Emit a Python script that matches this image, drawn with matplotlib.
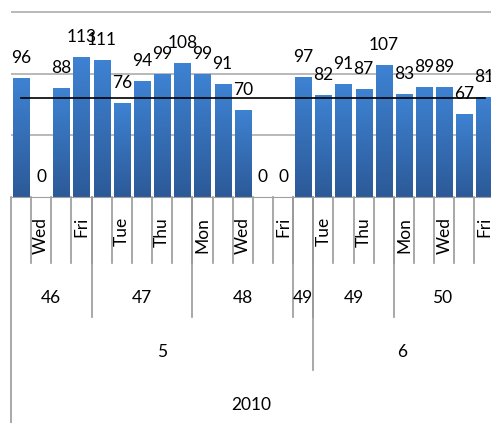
import numpy as np
import matplotlib.pyplot as plt
from matplotlib.colors import LinearSegmentedColormap

plt.rcParams['font.family'] = ['Lato', 'DejaVu Sans']

values = [96, 0, 88, 113, 111, 76, 94, 99, 108, 99, 91, 70,
          0, 0, 97, 82, 91, 87, 107, 83, 89, 89, 67, 81]
days = ['Tue', 'Wed', 'Thu', 'Fri',
        'Mon', 'Tue', 'Wed', 'Thu', 'Fri',
        'Mon', 'Tue', 'Wed', 'Thu', 'Fri',
        'Mon', 'Tue', 'Wed', 'Thu', 'Fri',
        'Mon', 'Tue', 'Wed', 'Thu', 'Fri']
weeks = [46]*4 + [47]*5 + [48]*5 + [49]*5 + [50]*5
months = [5]*15 + [6]*9
years = [2010]*24
target = 80

W, H = 491, 423
base_px = 197  # baseline, pixels from top

fig = plt.figure(figsize=(W/100, H/100), dpi=100)
ax = fig.add_axes([11/W, 1 - base_px/H, 480/W, base_px/H])

x = np.arange(len(values))
bars = ax.bar(x, values, width=0.8, color='none', zorder=2)

# gradient fill per bar, lighter at the top
cmap = LinearSegmentedColormap.from_list('bar', ['#2c5a98', '#3e82d2'])
grad = np.linspace(0, 1, 100).reshape(-1, 1)
for r in bars:
    h = r.get_height()
    if h > 0:
        ax.imshow(grad, extent=[r.get_x(), r.get_x() + r.get_width(), 0, h],
                  origin='lower', aspect='auto', cmap=cmap, zorder=2)

for xi, v in zip(x, values):
    ax.annotate(str(v), (xi, v), xytext=(0, 9), textcoords='offset points',
                ha='center', va='bottom', fontsize=12.5, color='black')

ax.plot([x[0], x[-1]], [target, target], color='black', lw=1.2, zorder=3)

xmin, xmax = -0.5, 23.32
ax.set_xlim(xmin, xmax)
ax.set_ylim(0, 159.7)
ax.set_yticks([50, 100, 150])
ax.yaxis.grid(True, color='#a6a6a6', lw=1.1)
ax.set_axisbelow(True)
ax.set_xticks([])
ax.tick_params(left=False, labelleft=False)
for s in ['top', 'right', 'left']:
    ax.spines[s].set_visible(False)
ax.spines['bottom'].set_color('#a0a0a0')


def ay(px):
    return (base_px - px) / base_px


trans = ax.get_xaxis_transform()
line_kw = dict(color='#999999', lw=1.2, transform=trans, clip_on=False)

# day level
for k in range(1, len(values)):
    ax.plot([k - 0.5, k - 0.5], [ay(base_px), ay(263)], **line_kw)
for k in range(1, len(values), 2):
    ax.text(k, ay(217), days[k], rotation=90, ha='center', va='top',
            fontsize=12.5, transform=trans, clip_on=False)


def runs(keys):
    out = []
    start = 0
    for i in range(1, len(keys) + 1):
        if i == len(keys) or keys[i] != keys[start]:
            out.append((start, i - 1, keys[start][-1]))
            start = i
    return out


levels = [
    (list(zip(years, months, weeks)), 317, 298),
    (list(zip(years, months)), 370, 352),
    (list(zip(years)), 423, 405),
]
for keys, bottom, ty in levels:
    for s, e, lab in runs(keys):
        if s > 0:
            ax.plot([s - 0.5, s - 0.5], [ay(base_px), ay(bottom)], **line_kw)
        c = (max(s - 0.5, xmin) + min(e + 0.5, xmax)) / 2
        ax.text(c, ay(ty), str(lab), ha='center', va='center',
                fontsize=12.5, transform=trans, clip_on=False)

ax.plot([xmin, xmin], [ay(base_px), ay(H)], **line_kw)

fig.savefig('out.png', dpi=100)
